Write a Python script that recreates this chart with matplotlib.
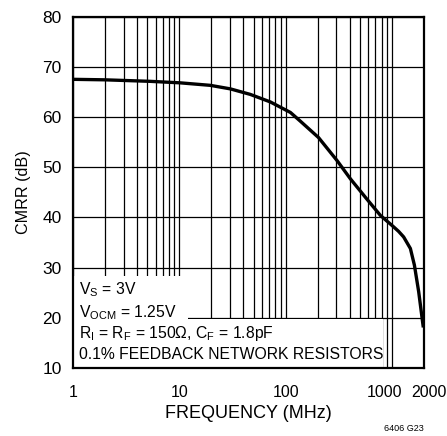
import matplotlib
matplotlib.use("Agg")
import matplotlib.pyplot as plt
from matplotlib.patches import Rectangle
from matplotlib.ticker import FixedLocator, NullFormatter
from matplotlib.transforms import ScaledTranslation

plt.rcParams['font.family'] = ['Liberation Sans', 'DejaVu Sans']

# CMRR vs frequency
freq_mhz = [1, 2, 5.3, 10.2, 19.6, 30.2, 46.5, 71.8, 111, 137, 204, 305, 406,
            583, 778, 1038, 1156, 1288, 1490, 1625, 1783, 1962]
cmrr_db = [67.5, 67.4, 67.1, 66.8, 66.3, 65.6, 64.5, 63.0, 60.9, 59.2, 55.9,
           51.3, 47.7, 43.6, 40.4, 38.1, 37.2, 36.1, 33.8, 30.5, 25.2, 18.4]

x_major = [1, 10, 100, 1000, 2000]
x_major_labels = ["1", "10", "100", "1000", "2000"]
x_minor = [2, 3, 4, 5, 6, 7, 8, 9, 20, 30, 40, 50, 60, 70, 80, 90,
           200, 300, 400, 500, 600, 700, 800, 900]
y_ticks = [10, 20, 30, 40, 50, 60, 70, 80]

notes = [r"V$_\mathregular{S}$ = 3V",
         r"V$_\mathregular{OCM}$ = 1.25V",
         r"R$_\mathregular{I}$ = R$_\mathregular{F}$ = 150Ω, C$_\mathregular{F}$ = 1.8pF",
         "0.1% FEEDBACK NETWORK RESISTORS"]
note_y = [0.2085, 0.145, 0.085, 0.026]

fig = plt.figure(figsize=(4.47, 4.36), dpi=100)
ax = fig.add_axes([0.163, 0.156, 0.7855, 0.806])

ax.plot(freq_mhz, cmrr_db, color="black", linewidth=2.4, zorder=4)

ax.set_xscale("log")
ax.set_xlim(1, 2000)
ax.set_ylim(10, 80)
ax.xaxis.set_major_locator(FixedLocator(x_major))
ax.set_xticklabels(x_major_labels)
ax.xaxis.set_minor_locator(FixedLocator(x_minor))
ax.xaxis.set_minor_formatter(NullFormatter())
ax.set_yticks(y_ticks)

ax.grid(True, which="both", color="black", linewidth=0.9)
ax.tick_params(which="both", length=0)
ax.tick_params(axis="y", pad=8, labelsize=12.5)
ax.tick_params(axis="x", pad=12, labelsize=11.5)
for sp in ax.spines.values():
    sp.set_linewidth(1.6)

# pull "1000" and "2000" apart like the reference
labels = ax.get_xticklabels()
labels[3].set_transform(labels[3].get_transform() + ScaledTranslation(-7 / 100, 0, fig.dpi_scale_trans))
labels[4].set_transform(labels[4].get_transform() + ScaledTranslation(5 / 100, 0, fig.dpi_scale_trans))

# white boxes behind the condition notes
ax.add_patch(Rectangle((0, 0), 0.328, 0.263, transform=ax.transAxes,
                       facecolor="white", edgecolor="none", zorder=2))
ax.add_patch(Rectangle((0, 0), 0.883, 0.139, transform=ax.transAxes,
                       facecolor="white", edgecolor="none", zorder=2))
for txt, yy in zip(notes, note_y):
    ax.text(0.018, yy, txt, transform=ax.transAxes, fontsize=11.3,
            va="baseline", ha="left", zorder=3)

ax.set_xlabel("FREQUENCY (MHz)", fontsize=13, labelpad=4)
ax.set_ylabel("CMRR (dB)", fontsize=11.6, labelpad=8)

fig.text(0.948, 0.007, "6406 G23", fontsize=6.5, ha="right", va="bottom")

fig.savefig("out.png", dpi=100)
